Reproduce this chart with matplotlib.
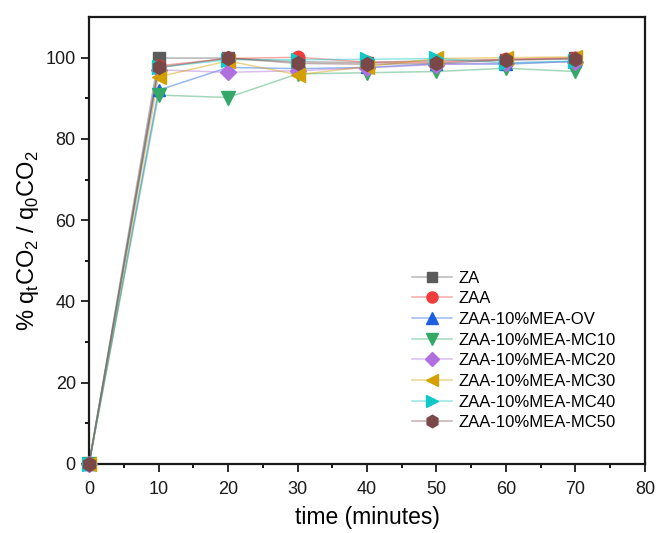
import numpy as np
import matplotlib.pyplot as plt

plt.rcParams['font.family'] = ['Liberation Sans', 'DejaVu Sans']

time_min = [0, 10, 20, 30, 40, 50, 60, 70]

labels = ['ZA', 'ZAA', 'ZAA-10%MEA-OV', 'ZAA-10%MEA-MC10', 'ZAA-10%MEA-MC20',
          'ZAA-10%MEA-MC30', 'ZAA-10%MEA-MC40', 'ZAA-10%MEA-MC50']

za = [0, 99.9, 99.9, 99.0, 98.8, 99.3, 99.5, 99.8]
zaa = [0, 98.0, 99.8, 100.1, 98.9, 98.9, 99.6, 100.0]
zaa_ov = [0, 92.0, 97.6, 97.3, 97.6, 98.5, 98.4, 99.1]
zaa_mc10 = [0, 90.8, 90.2, 96.0, 96.3, 96.6, 97.4, 96.6]
zaa_mc20 = [0, 97.0, 96.4, 96.8, 97.5, 98.3, 98.7, 99.0]
zaa_mc30 = [0, 95.3, 99.2, 95.8, 97.8, 99.8, 100.0, 100.2]
zaa_mc40 = [0, 97.6, 99.5, 99.5, 99.6, 99.8, 98.7, 99.2]
zaa_mc50 = [0, 97.6, 99.9, 98.6, 98.4, 98.6, 99.4, 99.7]

series = [za, zaa, zaa_ov, zaa_mc10, zaa_mc20, zaa_mc30, zaa_mc40, zaa_mc50]
colors = ['#5c5c5c', '#f03c3c', '#1c60e0', '#34a868', '#b070e0',
          '#d4a000', '#10c8c8', '#7a4848']
markers = ['s', 'o', '^', 'v', 'D', '<', '>', 'h']
msizes = [8, 9, 9, 10, 8, 10, 10, 10]

fig = plt.figure(figsize=(6.56, 5.33), dpi=100)
ax = fig.add_axes([0.1357, 0.1295, 0.8475, 0.8385])

for i in range(len(series)):
    ax.plot(time_min, series[i], color=colors[i], alpha=0.45, lw=1.1, zorder=2)
    ax.plot(time_min, series[i], ls='none', marker=markers[i], ms=msizes[i],
            color=colors[i], mec=colors[i], zorder=3, clip_on=False)
    # legend proxy
    ax.plot([], [], color=colors[i], lw=1.1, marker=markers[i],
            ms=msizes[i] - 1, mec=colors[i], label=labels[i])

ax.set_xlim(0, 80)
ax.set_ylim(0, 110)
ax.set_xticks(np.arange(0, 81, 10))
ax.set_yticks(np.arange(0, 101, 20))
ax.set_xticks(np.arange(5, 80, 10), minor=True)
ax.set_yticks(np.arange(10, 110, 20), minor=True)
ax.tick_params(direction='out', labelsize=13, width=1.3, length=6, colors='#1a1a1a')
ax.tick_params(axis='x', pad=6)
ax.tick_params(which='minor', direction='out', width=1.3, length=3)
for s in ax.spines.values():
    s.set_linewidth(1.6)
    s.set_color('#1a1a1a')

ax.set_xlabel('time (minutes)', fontsize=16.5, labelpad=6)
ax.set_ylabel('% q$_\\mathregular{t}$CO$_\\mathregular{2}$ / q$_\\mathregular{0}$CO$_\\mathregular{2}$',
              fontsize=17, labelpad=3)

leg = ax.legend(loc='lower right', bbox_to_anchor=(0.975, 0.042), frameon=False,
                fontsize=12, handlelength=2.4, labelspacing=0.34, handletextpad=0.4)
for ln, c in zip(leg.get_lines(), colors):
    ln.set_color(c + '70')
    ln.set_markerfacecolor(c)
    ln.set_markeredgecolor(c)

fig.savefig('out.png', dpi=100)
